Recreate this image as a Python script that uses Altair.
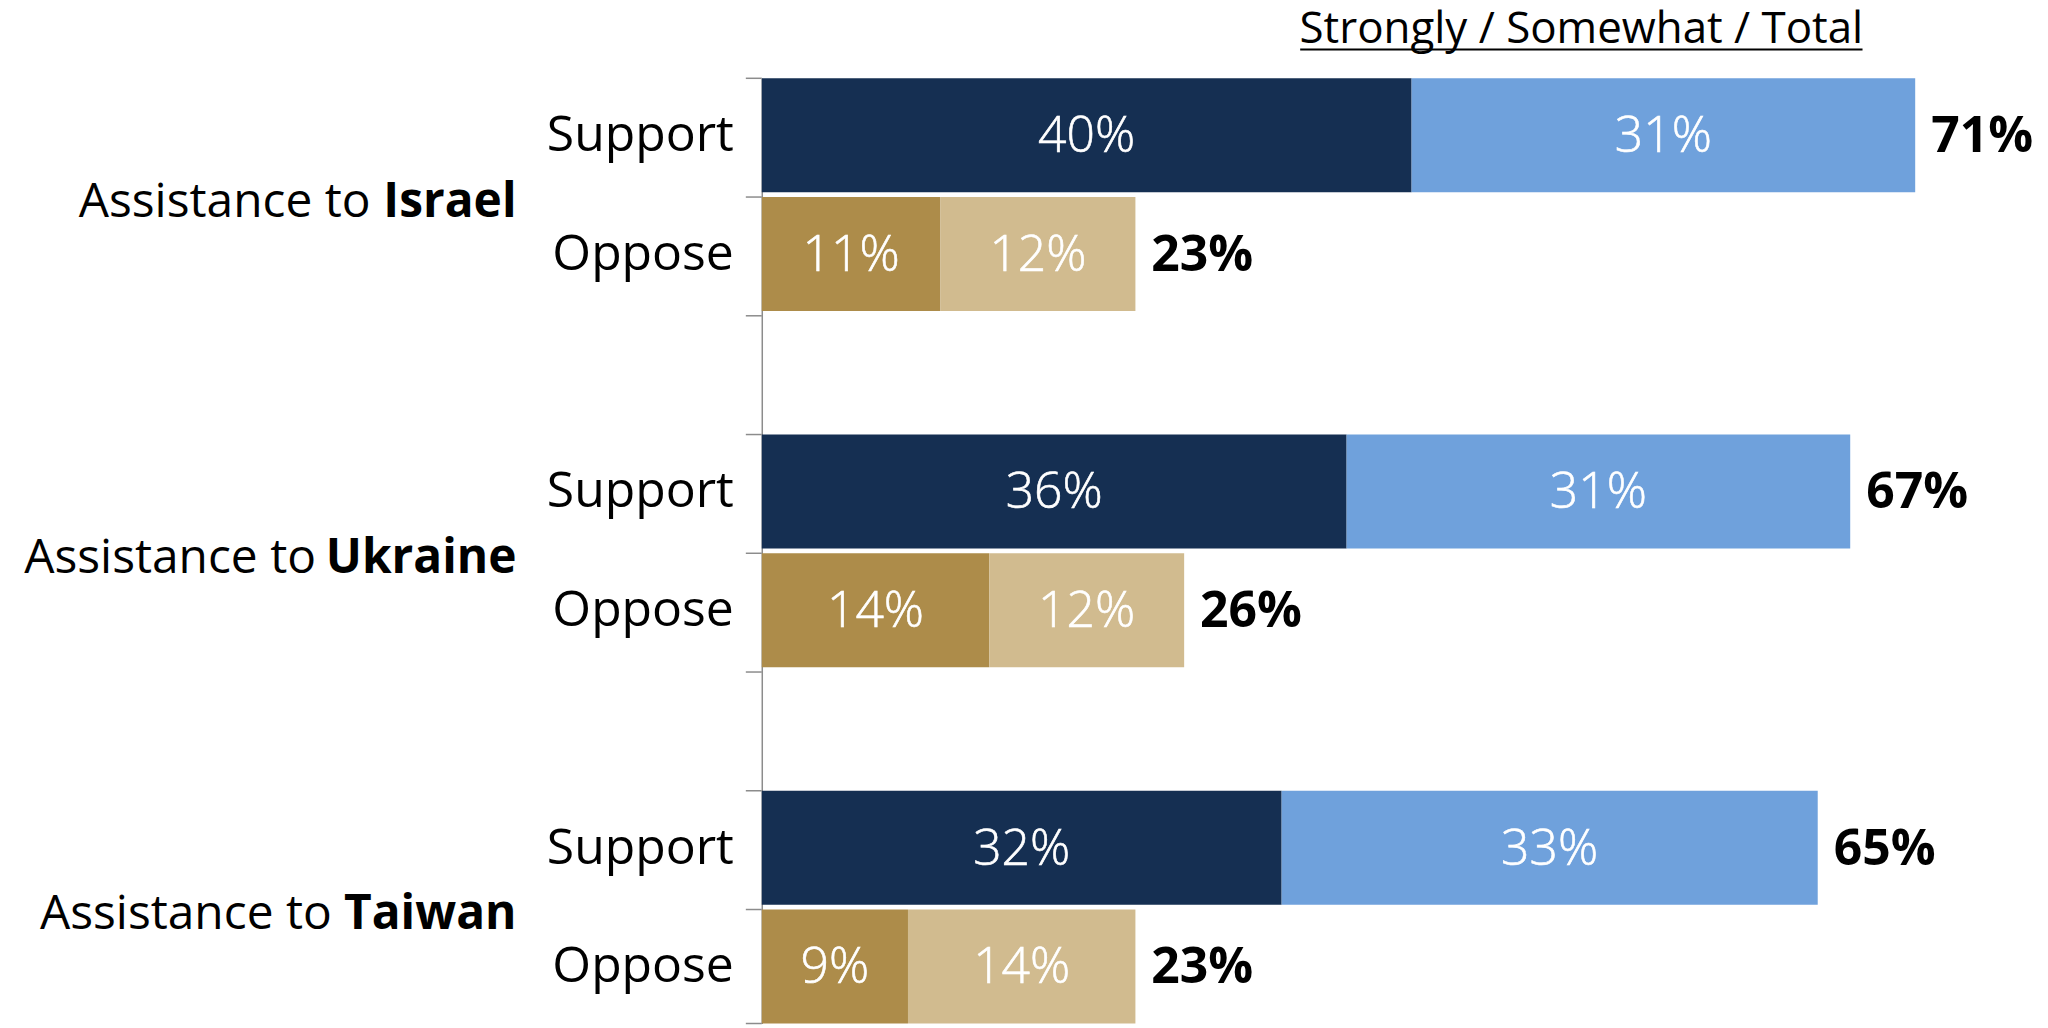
import altair as alt
import pandas as pd

# ---------------- data ----------------
countries = ["Israel", "Ukraine", "Taiwan"]
stances = ["Support", "Oppose"]
support_strongly = [40, 36, 32]
support_somewhat = [31, 31, 33]
support_total = [71, 67, 65]
oppose_strongly = [11, 14, 9]
oppose_somewhat = [12, 12, 14]
oppose_total = [23, 26, 23]
header_text = "Strongly / Somewhat / Total"
category_prefix = "Assistance to"

# ---------------- style ----------------
FONT = "Open Sans"
NAVY, LIGHTBLUE, GOLD, TAN = "#152F52", "#6FA1DC", "#AD8C4A", "#D1BB8F"
AXIS_GRAY = "#8c8c8c"
FS = 50
CAT_FS = 48

seg_domain = ["Support strongly", "Support somewhat", "Oppose strongly", "Oppose somewhat"]
seg_range = [NAVY, LIGHTBLUE, GOLD, TAN]

row_order = []
for i, c in enumerate(countries):
    row_order += [f"{c}|Support", f"{c}|Oppose"]
    if i < len(countries) - 1:
        row_order.append(f"gap{i}")

segs, totals, stance_lbl, cats = [], [], [], []
for i, c in enumerate(countries):
    parts = [
        ("Support", support_strongly[i], support_somewhat[i], support_total[i]),
        ("Oppose", oppose_strongly[i], oppose_somewhat[i], oppose_total[i]),
    ]
    for stance, strong, some, tot in parts:
        row = f"{c}|{stance}"
        segs.append(dict(row=row, seg=f"{stance} strongly", start=0, end=strong,
                         mid=strong / 2, label=f"{strong}%"))
        segs.append(dict(row=row, seg=f"{stance} somewhat", start=strong, end=strong + some,
                         mid=strong + some / 2, label=f"{some}%"))
        totals.append(dict(row=row, total=tot, label=f"{tot}%"))
        stance_lbl.append(dict(row=row, text=stance))

# approximate advance widths (em) of Open Sans Bold, for placing the mixed-weight labels
bold_em = {"I": 0.33, "s": 0.52, "r": 0.48, "a": 0.60, "e": 0.58, "l": 0.29, "U": 0.72,
           "k": 0.61, "i": 0.29, "n": 0.66, "T": 0.59, "w": 0.87}
LABEL_RIGHT = -246
for c in countries:
    w = sum(bold_em.get(ch, 0.6) for ch in c) * CAT_FS
    cats.append(dict(row=f"{c}|Oppose", bold=c, prefix=category_prefix,
                     xb=LABEL_RIGHT, xp=LABEL_RIGHT - w - 12))

seg_df = pd.DataFrame(segs)
tot_df = pd.DataFrame(totals)
stance_df = pd.DataFrame(stance_lbl)
cat_df = pd.DataFrame(cats)
tick_df = pd.DataFrame({"row": row_order})
last_df = pd.DataFrame({"row": [row_order[-1]]})

XMAX = 75
WIDTH = 1222
HEIGHT = 948

yscale = alt.Scale(domain=row_order, paddingInner=0.04, paddingOuter=0.0)
xscale = alt.Scale(domain=[0, XMAX], nice=False, zero=True)


def Y(**kw):
    return alt.Y("row:N", scale=yscale, sort=row_order, **kw)


bars = alt.Chart(seg_df).mark_bar().encode(
    x=alt.X("start:Q", scale=xscale, axis=None),
    x2="end:Q",
    y=Y(axis=alt.Axis(labels=False, ticks=False, title=None, grid=False,
                      domainColor=AXIS_GRAY, domainWidth=1.5)),
    color=alt.Color("seg:N", scale=alt.Scale(domain=seg_domain, range=seg_range), legend=None),
)

seg_text = alt.Chart(seg_df).mark_text(
    font=FONT, fontSize=FS, fontWeight=300, color="white", baseline="middle", align="center", dy=2,
    stroke="white", strokeWidth=0.6
).encode(x=alt.X("mid:Q", scale=xscale), y=Y(), text="label:N")

tot_text = alt.Chart(tot_df).mark_text(
    font=FONT, fontSize=FS, fontWeight="bold", color="black", baseline="middle", align="left", dx=16, dy=2
).encode(x=alt.X("total:Q", scale=xscale), y=Y(), text="label:N")

stance_text = alt.Chart(stance_df).mark_text(
    font=FONT, fontSize=FS, color="black", baseline="middle", align="right", dy=1
).encode(x=alt.value(-28), y=Y(), text="text:N")

cat_bold = alt.Chart(cat_df).mark_text(
    font=FONT, fontSize=CAT_FS, fontWeight="bold", color="black", baseline="middle", align="right", dy=6
).encode(x=alt.X("xb:Q", scale=None), y=Y(bandPosition=0), text="bold:N")

cat_prefix = alt.Chart(cat_df).mark_text(
    font=FONT, fontSize=CAT_FS, color="black", baseline="middle", align="right", dy=6
).encode(x=alt.X("xp:Q", scale=None), y=Y(bandPosition=0), text="prefix:N")

ticks = alt.Chart(tick_df).mark_rule(color=AXIS_GRAY, strokeWidth=1.5).encode(
    x=alt.value(-16), x2=alt.value(0), y=Y(bandPosition=0)
)
last_tick = alt.Chart(last_df).mark_rule(color=AXIS_GRAY, strokeWidth=1.5).encode(
    x=alt.value(-16), x2=alt.value(0), y=Y(bandPosition=1)
)

hdr_df = pd.DataFrame({"t": [header_text]})
header = alt.Chart(hdr_df).mark_text(
    font=FONT, fontSize=44, color="black", align="center", baseline="alphabetic"
).encode(x=alt.value(822), y=alt.value(-35), text="t:N")
underline = alt.Chart(hdr_df).mark_rule(color="black", strokeWidth=2).encode(
    x=alt.value(540), x2=alt.value(1104), y=alt.value(-29)
)

chart = alt.layer(
    bars, seg_text, tot_text, stance_text, cat_prefix, cat_bold, ticks, last_tick, header, underline
).properties(
    width=WIDTH, height=HEIGHT,
    autosize=alt.AutoSizeParams(type="none"),
    padding={"left": 756, "top": 69, "right": 60, "bottom": 3},
).configure_view(stroke=None)

chart.save("out.html", embed_options={"renderer": "svg", "actions": False})
